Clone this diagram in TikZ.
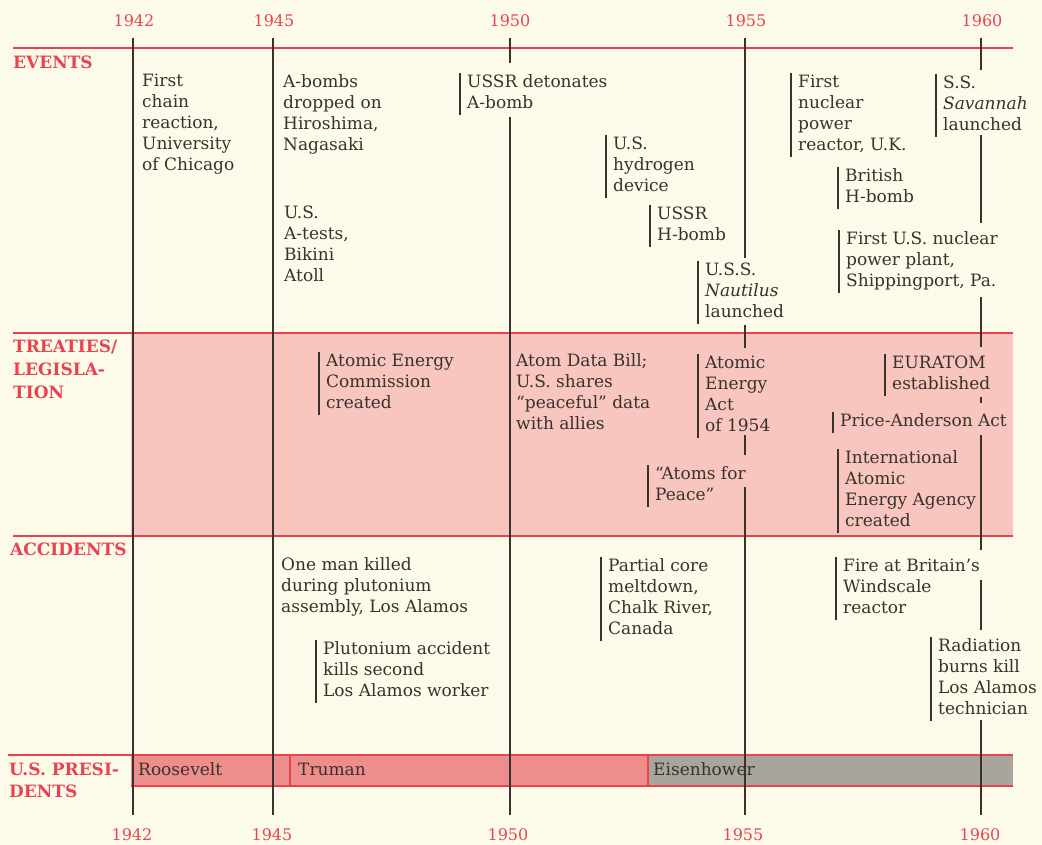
\documentclass[tikz,border=0pt]{standalone}
\usepackage{fontspec}
\setmainfont{DejaVu Serif}
\definecolor{bg}{RGB}{252,251,234}
\definecolor{lred}{RGB}{232,68,80}
\definecolor{band}{RGB}{248,198,190}
\definecolor{pres}{RGB}{238,142,140}
\definecolor{eisgray}{RGB}{170,165,156}
\definecolor{ink}{RGB}{55,50,45}
\tikzset{
  txt/.style={anchor=north west, inner sep=0pt, align=left, text=ink, yshift=-2pt,
    font=\fontsize{17}{21}\selectfont},
  barline/.style={draw=ink, line width=2pt},
  barred/.style={txt, append after command={
    ([xshift=-7pt]\tikzlastnode.north west) edge[barline] ([xshift=-7pt]\tikzlastnode.south west)}},
  yr/.style={inner sep=0pt, text=lred, font=\fontsize{16}{18}\selectfont},
  lab/.style={anchor=north west, inner sep=0pt, align=left, text=lred,
    font=\fontsize{17}{22}\selectfont\bfseries},
  redline/.style={draw=lred, line width=2.5pt},
  yline/.style={draw=ink, line width=1.6pt},
  pname/.style={anchor=base west, inner sep=0pt, text=ink, font=\fontsize{17}{21}\selectfont},
}
\begin{document}
\begin{tikzpicture}[x=1pt,y=-1pt]
\useasboundingbox (0,0) rectangle (1042,845);
\fill[bg] (0,0) rectangle (1042,845);
% bands
\fill[band] (131,333) rectangle (1013,536);
\fill[pres] (131,755) rectangle (648,786);
\fill[eisgray] (648,755) rectangle (1013,786);
% red rules
\draw[redline] (13,48) -- (1013,48);
\draw[redline] (13,333) -- (1013,333);
\draw[redline] (13,536) -- (1013,536);
\draw[redline] (8,755) -- (1013,755);
\draw[redline] (131,786) -- (1013,786);
\draw[draw=lred, line width=1.5pt] (290,755) -- (290,786);
\draw[draw=lred, line width=1.5pt] (648,755) -- (648,786);
% year labels
\node[yr] (t42) at (134,21) {1942};
\node[yr] (t45) at (274,21) {1945};
\node[yr] (t50) at (510,21) {1950};
\node[yr] (t55) at (746,21) {1955};
\node[yr] (t60) at (982,21) {1960};
\node[yr] (b42) at (132,835) {1942};
\node[yr] (b45) at (272,835) {1945};
\node[yr] (b50) at (508,835) {1950};
\node[yr] (b55) at (743,835) {1955};
\node[yr] (b60) at (980,835) {1960};
% year lines
\draw[yline] (133,38) -- (133,815);
\draw[yline] (273,38) -- (273,815);
\draw[yline] (510,38) -- (510,63);
\draw[yline] (510,117) -- (510,815);
\draw[yline] (745,38) -- (745,258);
\draw[yline] (745,325) -- (745,348);
\draw[yline] (745,435) -- (745,455);
\draw[yline] (745,487) -- (745,815);
\draw[yline] (981,38) -- (981,70);
\draw[yline] (981,135) -- (981,223);
\draw[yline] (981,297) -- (981,347);
\draw[yline] (981,397) -- (981,403);
\draw[yline] (981,435) -- (981,550);
\draw[yline] (981,580) -- (981,630);
\draw[yline] (981,720) -- (981,815);
% row labels
\node[lab] (lev) at (13,53) {\strut EVENTS};
\node[lab, font=\fontsize{17}{23}\selectfont\bfseries] (ltr) at (13,336.5) {\strut TREATIES/\\LEGISLA-\\TION};
\node[lab] (lac) at (10,540) {\strut ACCIDENTS};
\node[lab] (lpr) at (9,760) {\strut U.S. PRESI-\\DENTS};
% events
\node[txt] (e1) at (142,70) {\strut First\\chain\\reaction,\\University\\of Chicago};
\node[txt] (e2) at (283,71) {\strut A-bombs\\dropped on\\Hiroshima,\\Nagasaki};
\node[txt] (e3) at (284,202) {\strut U.S.\\A-tests,\\Bikini\\Atoll};
\node[barred] (e4) at (467,71) {\strut USSR detonates\\A-bomb\strut};
\node[barred] (e5) at (613,133) {\strut U.S.\\hydrogen\\device\strut};
\node[barred] (e6) at (657,203) {\strut USSR\\H-bomb\strut};
\node[barred] (e7) at (705,259) {\strut U.S.S.\\\textit{Nautilus}\\launched\strut};
\node[barred] (e8) at (798,71) {\strut First\\nuclear\\power\\reactor, U.K.\strut};
\node[barred] (e9) at (943,72) {\strut S.S.\\\textit{Savannah}\\launched\strut};
\node[barred] (e10) at (845,165) {\strut British\\H-bomb\strut};
\node[barred] (e11) at (846,228) {\strut First U.S. nuclear\\power plant,\\Shippingport, Pa.\strut};
% treaties
\node[barred] (t1) at (326,350) {\strut Atomic Energy\\Commission\\created\strut};
\node[txt] (t2) at (516,350) {\strut Atom Data Bill;\\U.S. shares\\``peaceful'' data\\with allies};
\node[barred] (t3) at (705,352) {\strut Atomic\\Energy\\Act\\of 1954\strut};
\node[barred] (t4) at (655,463) {\strut ``Atoms for\\Peace''\strut};
\node[barred] (t5) at (892,352) {\strut EURATOM\\established\strut};
\node[barred] (t6) at (840,410) {\strut Price-Anderson Act};
\node[barred] (t7) at (845,447) {\strut International\\Atomic\\Energy Agency\\created\strut};
% accidents
\node[txt] (a1) at (281,554) {\strut One man killed\\during plutonium\\assembly, Los Alamos};
\node[barred] (a2) at (323,638) {\strut Plutonium accident\\kills second\\Los Alamos worker\strut};
\node[barred] (a3) at (608,555) {\strut Partial core\\meltdown,\\Chalk River,\\Canada\strut};
\node[barred] (a4) at (843,555) {\strut Fire at Britain's\\Windscale\\reactor\strut};
\node[barred] (a5) at (938,635) {\strut Radiation\\burns kill\\Los Alamos\\technician\strut};
% presidents
\node[pname] (p1) at (138,775) {Roosevelt};
\node[pname] (p2) at (298,775) {Truman};
\node[pname] (p3) at (653,775) {Eisenhower};
\end{tikzpicture}
\end{document}
